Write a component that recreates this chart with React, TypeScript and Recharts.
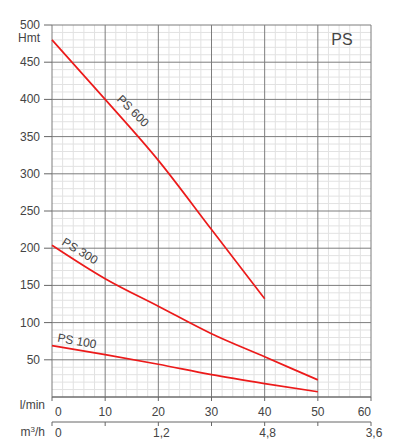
import React from 'react';
import { LineChart, Line, XAxis, YAxis, CartesianGrid, Customized } from 'recharts';

const flowLmin = [0, 10, 20, 30, 40, 50];
const ps600 = [480, 400, 318, 225, 132];
const ps300 = [204, 159, 122, 85, 54, 23];
const ps100 = [69, 57, 44, 30, 18, 7];

const lminTicks = [0, 10, 20, 30, 40, 50, 60];
const lminTickLabels = ['0', '10', '20', '30', '40', '50', '60'];
const m3hTickLabels = ['0', '', '1,2', '', '4,8', '', '3,6'];
const hmtTicks = [50, 100, 150, 200, 250, 300, 350, 400, 450, 500];

const majorX = [0, 10, 20, 30, 40, 50, 60];
const majorY = [0, 50, 100, 150, 200, 250, 300, 350, 400, 450, 500];
const minorX = Array.from({ length: 31 }, (_, i) => i * 2).filter((v) => v % 10 !== 0);
const minorY = Array.from({ length: 51 }, (_, i) => i * 10).filter((v) => v % 50 !== 0);

const data = flowLmin.map((x, i) => ({
  x,
  ps600: ps600[i],
  ps300: ps300[i],
  ps100: ps100[i],
}));

const FONT = '"Liberation Sans", Arial, sans-serif';
const TXT = '#444';
const RED = '#ec1a1a';

const YTick = (props: any) => {
  const { x, y, payload } = props;
  return (
    <g>
      <text x={x} y={y} dy={4} textAnchor="end" fontSize={12} fill={TXT} fontFamily={FONT}>
        {payload.value}
      </text>
      {payload.value === 500 && (
        <text x={x} y={y + 13} dy={4} textAnchor="end" fontSize={12} fill={TXT} fontFamily={FONT}>
          Hmt
        </text>
      )}
    </g>
  );
};

const LminTick = (props: any) => {
  const { x, y, payload } = props;
  const idx = lminTicks.indexOf(payload.value);
  const anchor = payload.value === 0 ? 'start' : payload.value === 60 ? 'end' : 'middle';
  const dx = payload.value === 0 ? 3 : 0;
  return (
    <text x={x + dx} y={y} dy="0.71em" textAnchor={anchor} fontSize={12} fill={TXT} fontFamily={FONT}>
      {lminTickLabels[idx]}
    </text>
  );
};

const M3hTick = (props: any) => {
  const { x, y, payload } = props;
  const idx = lminTicks.indexOf(payload.value);
  const anchor = payload.value === 0 ? 'start' : 'middle';
  const dx = 3;
  return (
    <text x={x + dx} y={y} dy="0.71em" textAnchor={anchor} fontSize={12} fill={TXT} fontFamily={FONT}>
      {m3hTickLabels[idx]}
    </text>
  );
};

const Annotations = () => (
  <g fontFamily={FONT} fill={TXT}>
    <text x={45} y={409} textAnchor="end" fontSize={12}>l/min</text>
    <text x={45} y={436} textAnchor="end" fontSize={12}>
      m<tspan fontSize={8} dy={-4}>3</tspan><tspan dy={4}>/h</tspan>
    </text>
    <text x={342} y={45} textAnchor="middle" fontSize={16}>PS</text>
    <text transform="translate(133,111) rotate(45)" textAnchor="middle" dy={4} fontSize={12}>PS 600</text>
    <text transform="translate(80,251) rotate(31)" textAnchor="middle" dy={4} fontSize={12}>PS 300</text>
    <text transform="translate(77,341) rotate(10)" textAnchor="middle" dy={4} fontSize={12}>PS 100</text>
  </g>
);

export default function App() {
  return (
    <div style={{ position: 'absolute', left: 0, top: 0, background: '#fff' }}>
      <LineChart width={395} height={446} data={data} margin={{ top: 25, right: 24, bottom: 0, left: 0 }}>
        <CartesianGrid
          xAxisId="lmin"
          yAxisId="h"
          stroke="#e2e2e2"
          strokeWidth={1}
          verticalValues={minorX}
          horizontalValues={minorY}
        />
        <CartesianGrid
          xAxisId="lmin"
          yAxisId="h"
          stroke="#7d7d7d"
          strokeWidth={1}
          verticalValues={majorX}
          horizontalValues={majorY}
        />
        <XAxis
          xAxisId="lmin"
          dataKey="x"
          type="number"
          domain={[0, 60]}
          ticks={lminTicks}
          height={25}
          tickSize={4}
          tickMargin={6}
          axisLine={{ stroke: '#666' }}
          tickLine={{ stroke: '#666' }}
          tick={LminTick}
          interval={0}
        />
        <XAxis
          xAxisId="m3h"
          dataKey="x"
          type="number"
          domain={[0, 60]}
          ticks={lminTicks}
          height={24}
          tickSize={4}
          tickMargin={2}
          axisLine={{ stroke: '#666' }}
          tickLine={{ stroke: '#666' }}
          tick={M3hTick}
          interval={0}
        />
        <YAxis
          yAxisId="h"
          type="number"
          domain={[0, 500]}
          ticks={hmtTicks}
          width={52}
          tickSize={8}
          tickMargin={4}
          axisLine={false}
          tickLine={{ stroke: '#666' }}
          tick={YTick}
          interval={0}
        />
        <Line xAxisId="lmin" yAxisId="h" dataKey="ps600" type="monotone" stroke={RED} strokeWidth={1.7} dot={false} isAnimationActive={false} />
        <Line xAxisId="lmin" yAxisId="h" dataKey="ps300" type="monotone" stroke={RED} strokeWidth={1.7} dot={false} isAnimationActive={false} />
        <Line xAxisId="lmin" yAxisId="h" dataKey="ps100" type="monotone" stroke={RED} strokeWidth={1.7} dot={false} isAnimationActive={false} />
        <Line xAxisId="m3h" yAxisId="h" dataKey="ps100" stroke="none" dot={false} legendType="none" isAnimationActive={false} />
        <Customized component={<Annotations />} />
      </LineChart>
    </div>
  );
}
